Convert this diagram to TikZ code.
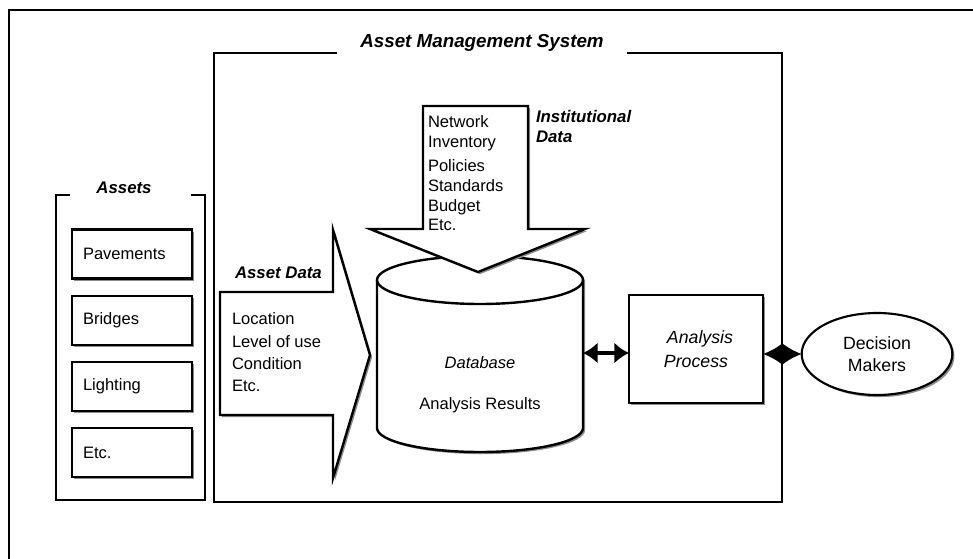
\documentclass[tikz,border=0pt]{standalone}
\usepackage{fontspec}
\setmainfont{Liberation Sans}
\usetikzlibrary{arrows.meta,shadows,shapes.geometric}
\begin{document}
\begin{tikzpicture}[x=0.75pt,y=-0.75pt,
  every node/.style={inner sep=0pt,outer sep=0pt},
  body/.style={font=\fontsize{12.4}{15}\selectfont},
  lbl/.style={font=\fontsize{12.6}{16}\selectfont\bfseries\itshape},
  big/.style={font=\fontsize{13.3}{16.5}\selectfont},
  shad/.style={drop shadow={shadow xshift=1.6pt,shadow yshift=-1.6pt,fill=black!45,opacity=1}},
  heavy/.style={line width=1.8pt,line join=miter},
  abox/.style={draw,heavy,shad,fill=white,minimum height=36.75pt,text width=73.5pt,inner xsep=8.25pt,align=left,body},
  biarrow/.style={line width=2.6pt,{Latex[length=11pt,width=16pt]}-{Latex[length=11pt,width=16pt]}},
  diarrow/.style={line width=2pt,{Latex[length=14.6pt,width=16.5pt]}-{Latex[length=14.6pt,width=16.5pt]}}
]
\fill[white] (0,0) rectangle (973,559);
\useasboundingbox (0,0) rectangle (973,559);

% outer frame
\draw[line width=0.9pt] (9,559) -- (9,10) -- (973,10);

% Asset Management System frame
\node[font=\fontsize{14.1}{17}\selectfont\bfseries\itshape] (ams) at (482,43) {Asset Management System};
\draw[line width=0.9pt] (337,53) -- (214,53);
\draw[line width=2.2pt] (214,52) -- (214,502);
\draw[line width=1.2pt] (213,502) -- (782,502) -- (782,53) -- (627,53);

% Assets frame
\node[lbl] (assets) at (124,188) {Assets};
\draw[line width=1.6pt] (70,195) -- (56,195) -- (56,500) -- (205,500) -- (205,195) -- (191,195);

\node[abox] (pav) at (132,254) {Pavements};
\node[abox] (bri) at (132,320.5) {Bridges};
\node[abox] (lig) at (132,386.5) {Lighting};
\node[abox] (etc) at (132,452.5) {Etc.};

% Asset Data arrow
\draw[heavy,fill=white,shad] (220,292) -- (333,292) -- (333,230) -- (370,355) -- (333,478) -- (333,415) -- (220,415) -- cycle;
\node[lbl,anchor=base west] (adl) at (235,279) {Asset Data};
\node[body,anchor=base west] (ad1) at (232,324) {Location};
\node[body,anchor=base west] (ad2) at (232,347) {Level of use};
\node[body,anchor=base west] (ad3) at (232,369) {Condition};
\node[body,anchor=base west] (ad4) at (232,391) {Etc.};

% Database cylinder
\draw[heavy,fill=white,shad] (377,280) -- (377,428)
  arc[start angle=180,end angle=0,x radius=103,y radius=24] -- (583,280)
  arc[start angle=0,end angle=-180,x radius=103,y radius=24] -- cycle;
\draw[heavy] (377,280) arc[start angle=180,end angle=0,x radius=103,y radius=24];
\node[minimum width=154.5pt,minimum height=1pt] (db) at (480,353) {};
\node[body,font=\fontsize{12.4}{15}\selectfont\itshape] (dbt) at (480,363) {Database};
\node[body] (dbr) at (480,405) {Analysis Results};

% Institutional Data arrow
\draw[heavy,fill=white,shad] (423,106) -- (528,106) -- (528,229) -- (585,229) -- (478,272) -- (370,229) -- (423,229) -- cycle;
\node[body,anchor=base west] (id1) at (428,128) {Network};
\node[body,anchor=base west] (id2) at (428,148) {Inventory};
\node[body,anchor=base west] (id3) at (428,172) {Policies};
\node[body,anchor=base west] (id4) at (428,192) {Standards};
\node[body,anchor=base west] (id5) at (428,212) {Budget};
\node[body,anchor=base west] (id6) at (428,231) {Etc.};
\node[lbl,anchor=base west] (idl1) at (536,123) {Institutional};
\node[lbl,anchor=base west] (idl2) at (536,143) {Data};

% Analysis Process
\node[draw,line width=1.6pt,shad,fill=white,minimum width=100.5pt,minimum height=81pt,align=center,big,font=\fontsize{13.3}{17.5}\selectfont\itshape] (ap) at (696,349) {\hspace*{6pt}Analysis\\Process};

% Decision Makers
\node[ellipse,draw,line width=1.6pt,shad,fill=white,minimum width=113pt,minimum height=61.5pt,align=center,big] (dm) at (877,354) {Decision\\Makers};

% connectors
\draw[biarrow] (db.east) -- (db.east -| ap.west);
\draw[diarrow] (dm.west -| ap.east) -- (dm.west);
\end{tikzpicture}
\end{document}
